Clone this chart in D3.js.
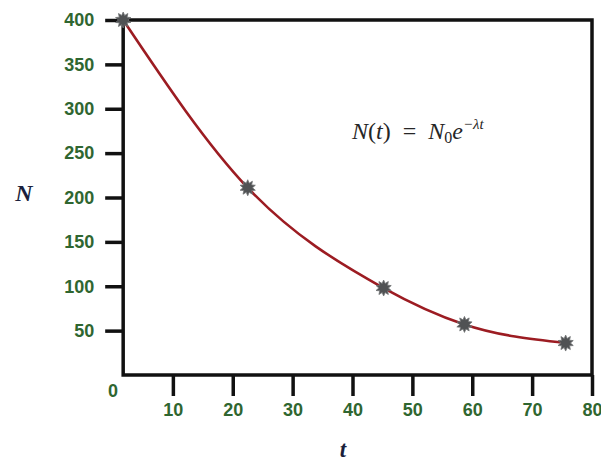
<!DOCTYPE html>
<html>
<head>
<meta charset="utf-8">
<script src="https://cdn.jsdelivr.net/npm/d3@7"></script>
<style>
  body { margin: 0; background: #fff; }
  svg { display: block; }
</style>
</head>
<body>
<script>
// data
const tValues = [1.7, 22.5, 45.2, 58.7, 75.6];
const nValues = [400, 211, 98, 57, 36];
const xTicks = [10, 20, 30, 40, 50, 60, 70, 80];
const yTicks = [50, 100, 150, 200, 250, 300, 350, 400];

const w = 601;
const h = 463;

const xScale = d3.scaleLinear().domain([0, 80]).range([113, 592]);
const yScale = d3.scaleLinear().domain([0, 400]).range([375, 20]);

const tickColor = "#2f6630";
const tickFont = "bold 18px 'Liberation Sans', Arial, sans-serif";

const svg = d3.select("body").append("svg")
  .attr("width", w)
  .attr("height", h);

// frame (plot box)
const x0 = xScale(tValues[0]);
svg.append("rect")
  .attr("x", x0)
  .attr("y", yScale(400))
  .attr("width", xScale(80) - x0)
  .attr("height", yScale(0) - yScale(400))
  .attr("fill", "none")
  .attr("stroke", "#111")
  .attr("stroke-width", 3.5);

// y axis
const yAxis = svg.append("g")
  .attr("transform", `translate(${x0},0)`)
  .call(d3.axisLeft(yScale).tickValues(yTicks).tickSize(18).tickPadding(11));

// x axis
const xAxis = svg.append("g")
  .attr("transform", `translate(0,${yScale(0)})`)
  .call(d3.axisBottom(xScale).tickValues(xTicks).tickSize(21).tickPadding(7));

[yAxis, xAxis].forEach((g) => {
  g.select(".domain").remove();
  g.selectAll(".tick line").attr("stroke", "#111").attr("stroke-width", 3.5);
  g.selectAll(".tick text")
    .style("font", tickFont)
    .attr("fill", tickColor);
});

// lone "0" at the origin corner
svg.append("text")
  .attr("x", xScale(0))
  .attr("y", yScale(0) + 22)
  .attr("text-anchor", "middle")
  .style("font", tickFont)
  .attr("fill", tickColor)
  .text("0");

// decay curve through the samples
const pts = tValues.map((t, i) => [t, nValues[i]]);
const line = d3.line()
  .x((d) => xScale(d[0]))
  .y((d) => yScale(d[1]))
  .curve(d3.curveMonotoneX);

svg.append("path")
  .datum(pts)
  .attr("d", line)
  .attr("fill", "none")
  .attr("stroke", "#9c1c22")
  .attr("stroke-width", 2.6);

// starburst markers
const spikes = 10;
const star = d3.lineRadial()
  .angle((d) => d[0])
  .radius((d) => d[1])
  .curve(d3.curveLinearClosed);
const starPts = d3.range(spikes * 2).map((i) => [i * Math.PI / spikes, i % 2 ? 4.8 : 8]);

svg.append("g")
  .selectAll("path")
  .data(pts)
  .enter()
  .append("path")
  .attr("transform", (d) => `translate(${xScale(d[0])},${yScale(d[1])})`)
  .attr("d", star(starPts))
  .attr("fill", "#505254")
  .attr("stroke", "#707274")
  .attr("stroke-width", 0.8);

// formula
const f = svg.append("text")
  .attr("x", 352)
  .attr("y", 139)
  .style("font-family", "'Liberation Serif', 'DejaVu Serif', serif")
  .style("font-size", "24px")
  .attr("fill", "#262626");
f.append("tspan").attr("font-style", "italic").text("N");
f.append("tspan").text("(");
f.append("tspan").attr("font-style", "italic").text("t");
f.append("tspan").text(")\u2002=\u2002");
f.append("tspan").attr("font-style", "italic").text("N");
f.append("tspan").attr("font-size", "16px").attr("dy", 4).text("0");
f.append("tspan").attr("font-style", "italic").attr("dy", -4).text("e");
f.append("tspan").attr("font-size", "15px").attr("font-style", "italic").attr("dy", -10).text("−λt");

// axis titles
svg.append("text")
  .attr("x", 24)
  .attr("y", 201)
  .attr("text-anchor", "middle")
  .style("font", "italic bold 24px 'Liberation Serif', 'DejaVu Serif', serif")
  .attr("fill", "#1b1f3c")
  .text("N");

svg.append("text")
  .attr("x", 343)
  .attr("y", 457)
  .attr("text-anchor", "middle")
  .style("font", "italic bold 23px 'Liberation Serif', 'DejaVu Serif', serif")
  .attr("fill", "#1b1f3c")
  .text("t");
</script>
</body>
</html>
